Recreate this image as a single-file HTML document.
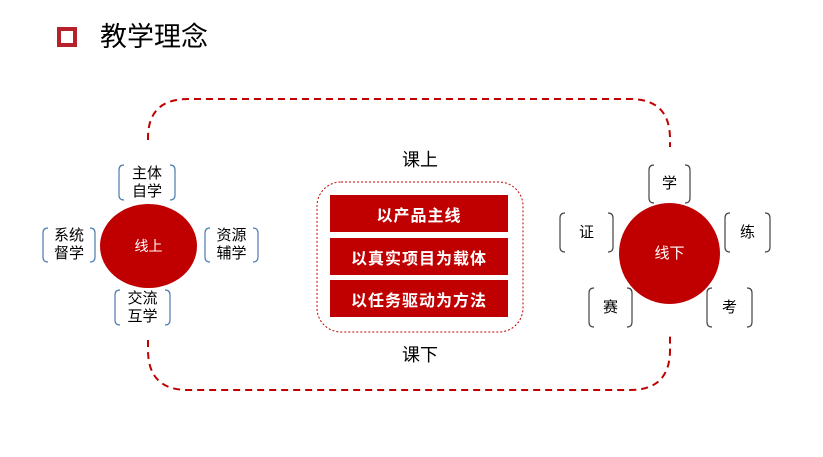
<!DOCTYPE html>
<html><head><meta charset="utf-8"><style>
body{margin:0;width:823px;height:457px;background:#fff;position:relative;overflow:hidden;font-family:"Liberation Sans","Noto Sans CJK SC",sans-serif}
.a{position:absolute}
.t{font-size:15px;color:#000;text-align:center;line-height:18px;display:flex;align-items:center;justify-content:center}
.bar{position:absolute;left:330px;width:178px;height:37px;background:#c00000;color:#fff;font-weight:bold;font-size:16px;display:flex;align-items:center;justify-content:center;letter-spacing:1px}
</style></head><body>
<div class="a" style="left:57px;top:27px;width:12px;height:12px;border:4px solid #b8202a"></div>
<div class="a" style="left:100px;top:20px;font-size:27px;line-height:34px">教学理念</div>
<svg class="a" style="left:0;top:0" width="823" height="457">
<g fill="none" stroke="#c00000" stroke-width="2" stroke-dasharray="7,5">
<path d="M148,140 L148,138 Q148,99 188,99 L630,99 Q670,99 670,139 L670,147"/>
<path d="M148,340 L148,350 Q148,390 188,390 L630,390 Q670,390 670,350 L670,335"/>
</g>
<rect x="317" y="182" width="206" height="150" rx="24" fill="none" stroke="#c00000" stroke-width="1" stroke-dasharray="2,2"/>
<ellipse cx="148.5" cy="246" rx="48.5" ry="42" fill="#c00000"/>
<circle cx="669.5" cy="253.5" r="50.5" fill="#c00000"/>
<g fill="none" stroke="#4a7ab0" stroke-width="1.2">
<path d="M124,165 Q119,165 119,170 L119,195 Q119,200 124,200 M170,165 Q175,165 175,170 L175,195 Q175,200 170,200"/>
<path d="M48,228 Q43,228 43,233 L43,257 Q43,262 48,262 M90,228 Q95,228 95,233 L95,257 Q95,262 90,262"/>
<path d="M210,228 Q205,228 205,233 L205,257 Q205,262 210,262 M253,228 Q258,228 258,233 L258,257 Q258,262 253,262"/>
<path d="M120,290 Q115,290 115,295 L115,320 Q115,325 120,325 M165,290 Q170,290 170,295 L170,320 Q170,325 165,325"/>
</g>
<g fill="none" stroke="#444" stroke-width="1.2">
<path d="M654,165 Q649,165 649,170 L649,198 Q649,203 654,203 M685,165 Q690,165 690,170 L690,198 Q690,203 685,203"/>
<path d="M565,213 Q560,213 560,218 L560,247 Q560,252 565,252 M608,213 Q613,213 613,218 L613,247 Q613,252 608,252"/>
<path d="M730,213 Q725,213 725,218 L725,247 Q725,252 730,252 M765,213 Q770,213 770,218 L770,247 Q770,252 765,252"/>
<path d="M594,288 Q589,288 589,293 L589,322 Q589,327 594,327 M627,288 Q632,288 632,293 L632,322 Q632,327 627,327"/>
<path d="M712,288 Q707,288 707,293 L707,322 Q707,327 712,327 M747,288 Q752,288 752,293 L752,322 Q752,327 747,327"/>
</g>
</svg>
<div class="a t" style="left:119px;top:165px;width:56px;height:35px">主体<br>自学</div>
<div class="a t" style="left:43px;top:228px;width:52px;height:34px">系统<br>督学</div>
<div class="a t" style="left:205px;top:228px;width:53px;height:34px">资源<br>辅学</div>
<div class="a t" style="left:115px;top:290px;width:55px;height:35px">交流<br>互学</div>
<div class="a t" style="left:100px;top:236px;width:97px;height:20px;color:#fff;font-size:14px">线上</div>
<div class="a t" style="left:619px;top:244px;width:101px;height:20px;color:#fff;font-size:15px">线下</div>
<div class="a t" style="left:649px;top:165px;width:41px;height:38px">学</div>
<div class="a t" style="left:560px;top:213px;width:53px;height:39px">证</div>
<div class="a t" style="left:725px;top:213px;width:45px;height:39px">练</div>
<div class="a t" style="left:589px;top:288px;width:43px;height:39px">赛</div>
<div class="a t" style="left:707px;top:288px;width:45px;height:39px">考</div>
<div class="a t" style="left:380px;top:148px;width:80px;height:24px;font-size:18px">课上</div>
<div class="a t" style="left:380px;top:343px;width:80px;height:24px;font-size:18px">课下</div>
<div class="bar" style="top:195px">以产品主线</div>
<div class="bar" style="top:238px">以真实项目为载体</div>
<div class="bar" style="top:280px">以任务驱动为方法</div>
</body></html>
